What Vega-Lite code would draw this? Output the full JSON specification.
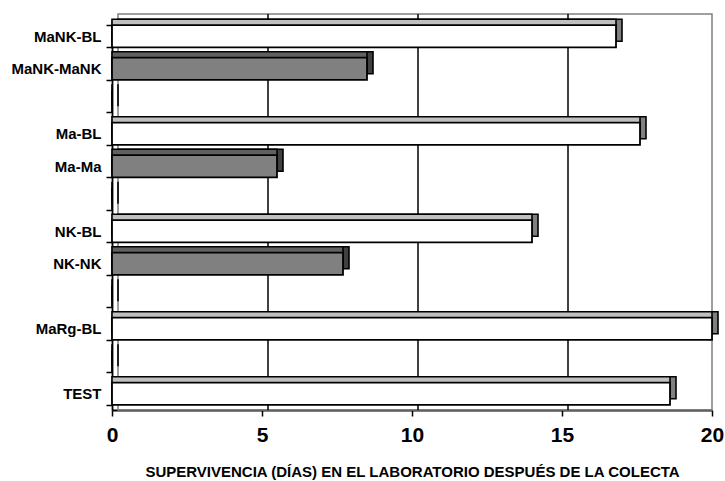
{
  "$schema": "https://vega.github.io/schema/vega-lite/v6.json",
  "width": 600,
  "height": 390,
  "autosize": "none",
  "padding": {"left": 112, "top": 20, "right": 13, "bottom": 71},
  "background": "white",
  "config": {
    "view": {"stroke": null},
    "font": "Liberation Sans",
    "axis": {"labelFont": "Liberation Sans", "titleFont": "Liberation Sans", "labelColor": "black", "titleColor": "black"}
  },
  "datasets": {
    "grupos": [
      {"grupo": "MaNK-BL", "dias": 16.8, "tipo": "blanco"},
      {"grupo": "MaNK-MaNK", "dias": 8.5, "tipo": "gris"},
      {"grupo": " ", "dias": 0, "tipo": "gris"},
      {"grupo": "Ma-BL", "dias": 17.6, "tipo": "blanco"},
      {"grupo": "Ma-Ma", "dias": 5.5, "tipo": "gris"},
      {"grupo": "  ", "dias": 0, "tipo": "gris"},
      {"grupo": "NK-BL", "dias": 14, "tipo": "blanco"},
      {"grupo": "NK-NK", "dias": 7.7, "tipo": "gris"},
      {"grupo": "   ", "dias": 0, "tipo": "gris"},
      {"grupo": "MaRg-BL", "dias": 20, "tipo": "blanco"},
      {"grupo": "    ", "dias": 0, "tipo": "gris"},
      {"grupo": "TEST", "dias": 18.6, "tipo": "blanco"}
    ],
    "rejilla": [{"v": 5}, {"v": 10}, {"v": 15}]
  },
  "layer": [
    {
      "data": {"values": [{"a": 0, "b": 20}]},
      "mark": {"type": "rect", "fill": null, "stroke": "#808080", "strokeWidth": 1.5, "xOffset": 6, "yOffset": -6},
      "encoding": {
        "x": {
          "field": "a", "type": "quantitative", "scale": {"domain": [0, 20], "nice": false},
          "axis": {"title": "SUPERVIVENCIA (DÍAS) EN EL LABORATORIO DESPUÉS DE LA COLECTA", "values": [0, 5, 10, 15, 20], "grid": false, "labelFontWeight": "bold", "labelFontSize": 21, "labelPadding": 8, "tickSize": 6, "tickColor": "black", "tickWidth": 1.5, "domainColor": "black", "domainWidth": 1.8, "titleFontWeight": "bold", "titleFontSize": 15, "titlePadding": 19, "labelFlush": false}
        },
        "x2": {"field": "b"}
      }
    },
    {
      "data": {"name": "rejilla"},
      "mark": {"type": "rule", "color": "black", "strokeWidth": 1.5, "xOffset": 6, "yOffset": -6},
      "encoding": {
        "x": {"field": "v", "type": "quantitative"}
      }
    },
    {
      "data": {"name": "grupos"},
      "mark": {"type": "bar", "stroke": "black", "strokeWidth": 1.6, "xOffset": 6, "yOffset": -6},
      "encoding": {
        "y": {
          "field": "grupo", "type": "nominal", "sort": null, "scale": {"paddingInner": 0.32, "paddingOuter": 0.16},
          "axis": {"title": null, "labelFontWeight": "bold", "labelFontSize": 15, "labelPadding": 5, "tickBand": "extent", "tickSize": 6, "tickColor": "black", "tickWidth": 1.5, "domainColor": "black", "domainWidth": 1.8}
        },
        "x": {"field": "dias", "type": "quantitative"},
        "fill": {"condition": {"test": "datum.tipo === 'blanco'", "value": "#808080"}, "value": "#404040"}
      }
    },
    {
      "data": {"name": "grupos"},
      "mark": {"type": "bar", "stroke": "black", "strokeWidth": 1.6, "yOffset": -6},
      "encoding": {
        "y": {"field": "grupo", "type": "nominal", "sort": null},
        "x": {"field": "dias", "type": "quantitative"},
        "fill": {"condition": {"test": "datum.tipo === 'blanco'", "value": "#c0c0c0"}, "value": "#606060"}
      }
    },
    {
      "data": {"name": "grupos"},
      "mark": {"type": "bar", "stroke": "black", "strokeWidth": 1.8},
      "encoding": {
        "y": {"field": "grupo", "type": "nominal", "sort": null},
        "x": {"field": "dias", "type": "quantitative"},
        "fill": {"condition": {"test": "datum.tipo === 'blanco'", "value": "#ffffff"}, "value": "#808080"}
      }
    }
  ]
}
